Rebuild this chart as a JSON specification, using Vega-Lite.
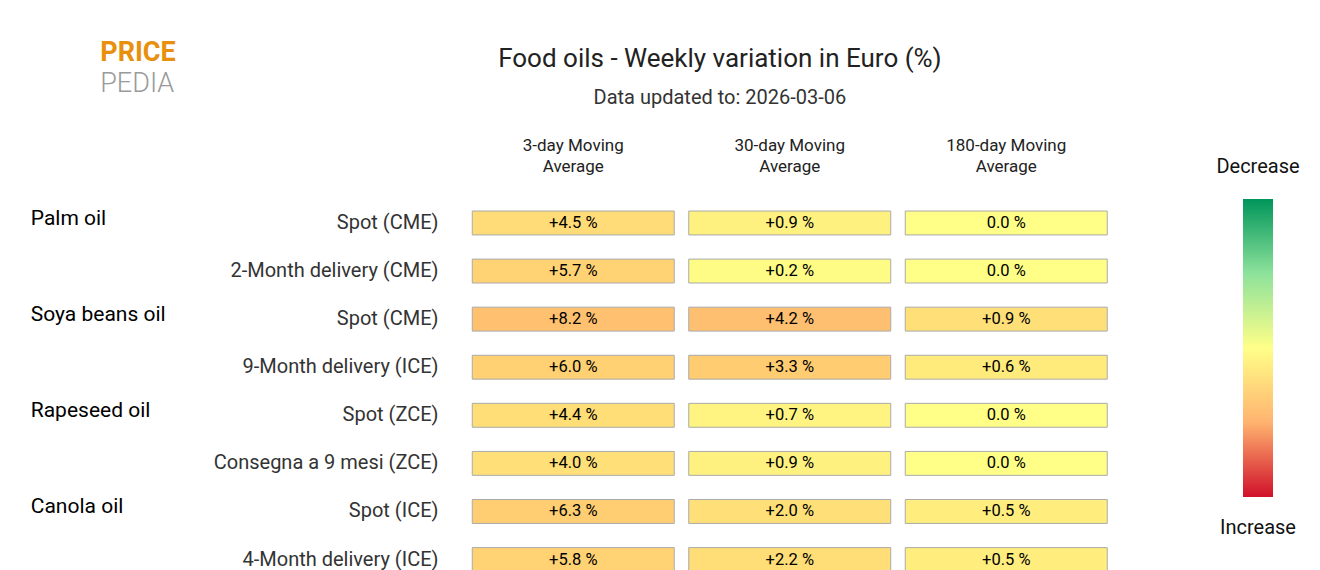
{
  "$schema": "https://vega.github.io/schema/vega-lite/v6.json",
  "background": "white",
  "padding": {"left": 30, "top": 39, "right": 10, "bottom": 0},
  "config": {"view": {"stroke": null}, "font": "Roboto"},
  "title": {
    "text": "Food oils - Weekly variation in Euro (%)",
    "subtitle": "Data updated to: 2026-03-06",
    "font": "Roboto", "fontSize": 26, "fontWeight": "normal", "color": "#222",
    "subtitleFont": "Roboto", "subtitleFontSize": 20, "subtitleColor": "#333",
    "subtitlePadding": 16, "anchor": "middle", "offset": -69, "dx": 55
  },
  "datasets": {
    "cells": [
      {"group": "Palm oil", "product": "Spot (CME)", "measure": "3-day Moving Average", "value": 4.5},
      {"group": "Palm oil", "product": "Spot (CME)", "measure": "30-day Moving Average", "value": 0.9},
      {"group": "Palm oil", "product": "Spot (CME)", "measure": "180-day Moving Average", "value": 0.0},
      {"group": "Palm oil", "product": "2-Month delivery (CME)", "measure": "3-day Moving Average", "value": 5.7},
      {"group": "Palm oil", "product": "2-Month delivery (CME)", "measure": "30-day Moving Average", "value": 0.2},
      {"group": "Palm oil", "product": "2-Month delivery (CME)", "measure": "180-day Moving Average", "value": 0.0},
      {"group": "Soya beans oil", "product": "Spot (CME)", "measure": "3-day Moving Average", "value": 8.2},
      {"group": "Soya beans oil", "product": "Spot (CME)", "measure": "30-day Moving Average", "value": 4.2},
      {"group": "Soya beans oil", "product": "Spot (CME)", "measure": "180-day Moving Average", "value": 0.9},
      {"group": "Soya beans oil", "product": "9-Month delivery (ICE)", "measure": "3-day Moving Average", "value": 6.0},
      {"group": "Soya beans oil", "product": "9-Month delivery (ICE)", "measure": "30-day Moving Average", "value": 3.3},
      {"group": "Soya beans oil", "product": "9-Month delivery (ICE)", "measure": "180-day Moving Average", "value": 0.6},
      {"group": "Rapeseed oil", "product": "Spot (ZCE)", "measure": "3-day Moving Average", "value": 4.4},
      {"group": "Rapeseed oil", "product": "Spot (ZCE)", "measure": "30-day Moving Average", "value": 0.7},
      {"group": "Rapeseed oil", "product": "Spot (ZCE)", "measure": "180-day Moving Average", "value": 0.0},
      {"group": "Rapeseed oil", "product": "Consegna a 9 mesi (ZCE)", "measure": "3-day Moving Average", "value": 4.0},
      {"group": "Rapeseed oil", "product": "Consegna a 9 mesi (ZCE)", "measure": "30-day Moving Average", "value": 0.9},
      {"group": "Rapeseed oil", "product": "Consegna a 9 mesi (ZCE)", "measure": "180-day Moving Average", "value": 0.0},
      {"group": "Canola oil", "product": "Spot (ICE)", "measure": "3-day Moving Average", "value": 6.3},
      {"group": "Canola oil", "product": "Spot (ICE)", "measure": "30-day Moving Average", "value": 2.0},
      {"group": "Canola oil", "product": "Spot (ICE)", "measure": "180-day Moving Average", "value": 0.5},
      {"group": "Canola oil", "product": "4-Month delivery (ICE)", "measure": "3-day Moving Average", "value": 5.8},
      {"group": "Canola oil", "product": "4-Month delivery (ICE)", "measure": "30-day Moving Average", "value": 2.2},
      {"group": "Canola oil", "product": "4-Month delivery (ICE)", "measure": "180-day Moving Average", "value": 0.5}
    ],
    "bar": [{"label": "Increase"}]
  },
  "bounds": "flush",
  "spacing": 128,
  "hconcat": [
    {
      "width": 649.5,
      "height": 372.5,
      "title": {
        "text": "PRICE", "subtitle": "PEDIA", "anchor": "start", "dx": 70, "offset": 38,
        "font": "Roboto", "fontSize": 27, "fontWeight": "bold", "color": "#e8900c",
        "subtitleFont": "Roboto", "subtitleFontSize": 27, "subtitleFontWeight": 300, "subtitleColor": "#9a9a9a",
        "subtitlePadding": 4
      },
      "data": {"name": "cells"},
      "transform": [
        {"calculate": "datum.group + '|' + datum.product", "as": "key"},
        {"calculate": "(datum.value > 0 ? '+' : '') + format(datum.value, '.1f') + ' %'", "as": "label"}
      ],
      "encoding": {
        "x": {
          "field": "measure", "type": "nominal", "sort": null,
          "scale": {"paddingInner": 0.067, "paddingOuter": 0.0335},
          "axis": {
            "orient": "top", "title": null, "ticks": false, "domain": false, "labelAngle": 0,
            "labelFontSize": 17, "labelColor": "#222", "labelPadding": 45, "labelLineHeight": 21,
            "labelExpr": "[replace(datum.label, ' Average', ''), 'Average']"
          }
        }
      },
      "layer": [
        {
          "transform": [{"filter": "datum.measure == '3-day Moving Average'"}],
          "mark": {"type": "rect", "stroke": "#aaaaaa", "strokeWidth": 1},
          "encoding": {
            "y": {
              "field": "key", "type": "nominal", "sort": null,
              "scale": {"paddingInner": 0.503, "paddingOuter": 0.125, "align": 1},
              "axis": {
                "orient": "left", "title": null, "ticks": false, "tickSize": 0, "domain": false,
                "labelFontSize": 20, "labelColor": "#333", "labelPadding": 27, "labelLimit": 400,
                "labelExpr": "split(datum.label, '|')[1]"
              }
            },
            "color": {
              "field": "value", "type": "quantitative", "legend": null,
              "scale": {"domain": [-20, -10, 0, 10, 20], "range": ["#00955a", "#8de29b", "#ffff88", "#ffb36f", "#d0102a"]}
            }
          }
        },
        {
          "transform": [{"filter": "datum.measure == '30-day Moving Average'"}],
          "mark": {"type": "rect", "stroke": "#aaaaaa", "strokeWidth": 1},
          "encoding": {
            "y": {
              "field": "key", "type": "nominal", "sort": null,
              "scale": {"paddingInner": 0.503, "paddingOuter": 0.125, "align": 1},
              "axis": null
            },
            "color": {
              "field": "value", "type": "quantitative", "legend": null,
              "scale": {"domain": [-10, -5, 0, 5, 10], "range": ["#00955a", "#8de29b", "#ffff88", "#ffb36f", "#d0102a"]}
            }
          }
        },
        {
          "transform": [{"filter": "datum.measure == '180-day Moving Average'"}],
          "mark": {"type": "rect", "stroke": "#aaaaaa", "strokeWidth": 1},
          "encoding": {
            "y": {
              "field": "key", "type": "nominal", "sort": null,
              "scale": {"paddingInner": 0.503, "paddingOuter": 0.125, "align": 1},
              "axis": null
            },
            "color": {
              "field": "value", "type": "quantitative", "legend": null,
              "scale": {"domain": [-4.5, -2.25, 0, 2.25, 4.5], "range": ["#00955a", "#8de29b", "#ffff88", "#ffb36f", "#d0102a"]}
            }
          }
        },
        {
          "mark": {"type": "text", "fontSize": 16.5, "color": "#000000", "font": "Roboto"},
          "encoding": {
            "y": {
              "field": "key", "type": "nominal", "sort": null,
              "scale": {"paddingInner": 0.503, "paddingOuter": 0.125, "align": 1},
              "axis": {
                "orient": "left", "title": null, "ticks": false, "tickSize": 0, "domain": false,
                "offset": 434.75, "labelAlign": "left", "labelPadding": 0, "labelOffset": -4,
                "labelFontSize": 21, "labelFontWeight": "normal", "labelColor": "#000", "labelLimit": 400,
                "labelExpr": "indexof(split(datum.label, '|')[1], 'Spot') == 0 ? split(datum.label, '|')[0] : ''"
              }
            },
            "text": {"field": "label", "type": "nominal"}
          }
        }
      ],
      "resolve": {"scale": {"color": "independent"}, "axis": {"y": "independent"}}
    },
    {
      "width": 30,
      "height": 298,
      "data": {"name": "bar"},
      "title": {"text": "Decrease", "font": "Roboto", "fontSize": 20, "fontWeight": "normal", "color": "#111", "offset": 22, "anchor": "middle"},
      "mark": {
        "type": "rect",
        "color": {
          "gradient": "linear", "x1": 0, "y1": 0, "x2": 0, "y2": 1,
          "stops": [
            {"offset": 0, "color": "#00955a"},
            {"offset": 0.25, "color": "#8de29b"},
            {"offset": 0.5, "color": "#ffff88"},
            {"offset": 0.75, "color": "#ffb36f"},
            {"offset": 1, "color": "#d0102a"}
          ]
        }
      },
      "encoding": {
        "x": {
          "field": "label", "type": "nominal",
          "scale": {"paddingInner": 0, "paddingOuter": 0},
          "axis": {
            "orient": "bottom", "title": null, "ticks": false, "domain": false, "labelAngle": 0,
            "labelFontSize": 20, "labelColor": "#111", "labelPadding": 20
          }
        }
      }
    }
  ]
}
